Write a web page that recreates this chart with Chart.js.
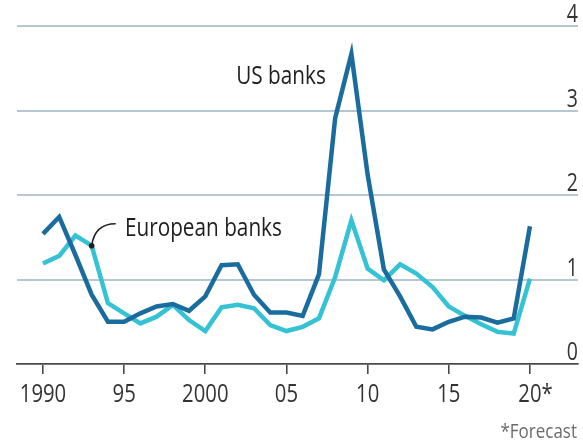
<!DOCTYPE html>
<html>
<head>
<meta charset="utf-8">
<script src="https://cdn.jsdelivr.net/npm/chart.js@4"></script>
<style>
  html, body { margin: 0; padding: 0; background: #fff; }
  #wrap { width: 583px; height: 443px; position: relative; }
</style>
</head>
<body>
<div id="wrap"><canvas id="chart"></canvas></div>
<script>
// years 1990 - 2020 (2020 is a forecast)
const years = [1990, 1991, 1992, 1993, 1994, 1995, 1996, 1997, 1998, 1999,
               2000, 2001, 2002, 2003, 2004, 2005, 2006, 2007, 2008, 2009,
               2010, 2011, 2012, 2013, 2014, 2015, 2016, 2017, 2018, 2019, 2020];

const usBanks = [1.54, 1.74, 1.29, 0.82, 0.50, 0.50, 0.60, 0.68, 0.71, 0.63,
                 0.80, 1.17, 1.18, 0.82, 0.61, 0.61, 0.57, 1.06, 2.91, 3.67,
                 2.24, 1.12, 0.80, 0.44, 0.41, 0.50, 0.56, 0.55, 0.49, 0.54, 1.63];

const europeanBanks = [1.19, 1.28, 1.52, 1.40, 0.72, 0.60, 0.48, 0.56, 0.70, 0.52,
                       0.39, 0.67, 0.70, 0.66, 0.46, 0.39, 0.44, 0.54, 1.03, 1.70,
                       1.13, 0.99, 1.18, 1.07, 0.91, 0.68, 0.57, 0.47, 0.38, 0.36, 1.01];

// x tick positions and their labels
const xTicks = [1990, 1995, 2000, 2005, 2010, 2015, 2020];
const xTickLabels = ['1990', '95', '2000', '05', '10', '15', '20'];

const yTicks = [0, 1, 2, 3, 4];

const usColor = '#1a6c9f';
const euColor = '#34c2d4';
const gridColor = '#b5c7d3';
const textFont = '"Open Sans", sans-serif';

// condensed-looking text: squeeze horizontally
function squeezeText(ctx, text, x, y, align, sx) {
  ctx.save();
  ctx.translate(x, y);
  ctx.scale(sx, 1);
  ctx.textAlign = align;
  ctx.fillText(text, 0, 0);
  ctx.restore();
}

// tick labels, text labels and the pointer for European banks
const annotations = {
  id: 'annotations',
  afterDatasetsDraw(chart) {
    const ctx = chart.ctx;
    const x = chart.scales.x;
    const y = chart.scales.y;
    const area = chart.chartArea;
    ctx.save();
    ctx.textBaseline = 'alphabetic';

    // x tick labels
    ctx.fillStyle = '#333';
    ctx.font = '26px ' + textFont;
    const sx = 0.78;
    xTicks.forEach((v, i) => {
      const px = x.getPixelForValue(v);
      const label = xTickLabels[i];
      if (i === xTicks.length - 1) {
        const w = ctx.measureText(label).width * sx;
        squeezeText(ctx, label + '*', px - w / 2, area.bottom + 38, 'left', sx);
      } else {
        squeezeText(ctx, label, px, area.bottom + 38, 'center', sx);
      }
    });

    // y tick labels, above each gridline on the right
    ctx.font = '25px ' + textFont;
    yTicks.forEach((v) => {
      squeezeText(ctx, String(v), area.right, y.getPixelForValue(v) - 4, 'right', sx);
    });

    // series labels
    ctx.fillStyle = '#1f1f1f';
    ctx.font = '25px ' + textFont;
    squeezeText(ctx, 'US banks', x.getPixelForValue(2001.9), y.getPixelForValue(3.31), 'left', 0.83);
    squeezeText(ctx, 'European banks', x.getPixelForValue(1995.05), y.getPixelForValue(1.51), 'left', 0.83);

    // pointer from the label to the 1993 European point
    const px = x.getPixelForValue(years[3]);
    const py = y.getPixelForValue(europeanBanks[3]);
    ctx.strokeStyle = '#1f1f1f';
    ctx.lineWidth = 1.6;
    ctx.beginPath();
    ctx.moveTo(px + 24, py - 22);
    ctx.quadraticCurveTo(px + 3, py - 22, px, py);
    ctx.stroke();
    ctx.beginPath();
    ctx.arc(px, py, 2.8, 0, Math.PI * 2);
    ctx.fill();

    // footnote
    ctx.fillStyle = '#6b6b6b';
    ctx.font = '20px ' + textFont;
    squeezeText(ctx, '*Forecast', chart.width - 6, chart.height - 5, 'right', 0.85);
    ctx.restore();
  }
};

new Chart(document.getElementById('chart'), {
  type: 'line',
  data: {
    datasets: [
      {
        label: 'US banks',
        data: years.map((yr, i) => ({ x: yr, y: usBanks[i] })),
        borderColor: usColor,
        borderWidth: 4.5,
        pointRadius: 0,
        tension: 0,
        borderJoinStyle: 'miter'
      },
      {
        label: 'European banks',
        data: years.map((yr, i) => ({ x: yr, y: europeanBanks[i] })),
        borderColor: euColor,
        borderWidth: 4.5,
        pointRadius: 0,
        tension: 0,
        borderJoinStyle: 'miter'
      }
    ]
  },
  options: {
    responsive: true,
    maintainAspectRatio: false,
    animation: false,
    layout: { padding: { top: 26, left: 17, right: 5, bottom: 0 } },
    plugins: {
      legend: { display: false },
      tooltip: { enabled: false }
    },
    scales: {
      x: {
        type: 'linear',
        min: 1988.4,
        max: 2022.96,
        afterBuildTicks: (scale) => { scale.ticks = xTicks.map(v => ({ value: v })); },
        afterFit: (scale) => { scale.height = 79; },
        border: { display: true, color: '#4a4a4a', width: 1.8 },
        grid: {
          drawOnChartArea: false,
          drawTicks: true,
          tickLength: 10,
          color: '#4a4a4a',
          lineWidth: 1.6
        },
        ticks: { display: false }
      },
      y: {
        position: 'right',
        min: 0,
        max: 4,
        afterBuildTicks: (scale) => { scale.ticks = yTicks.map(v => ({ value: v })); },
        afterFit: (scale) => { scale.width = 0; },
        border: { display: false },
        grid: {
          drawTicks: false,
          color: (c) => c.tick && c.tick.value === 0 ? 'rgba(0,0,0,0)' : gridColor,
          lineWidth: 2
        },
        ticks: { display: false }
      }
    }
  },
  plugins: [annotations]
});
</script>
</body>
</html>
